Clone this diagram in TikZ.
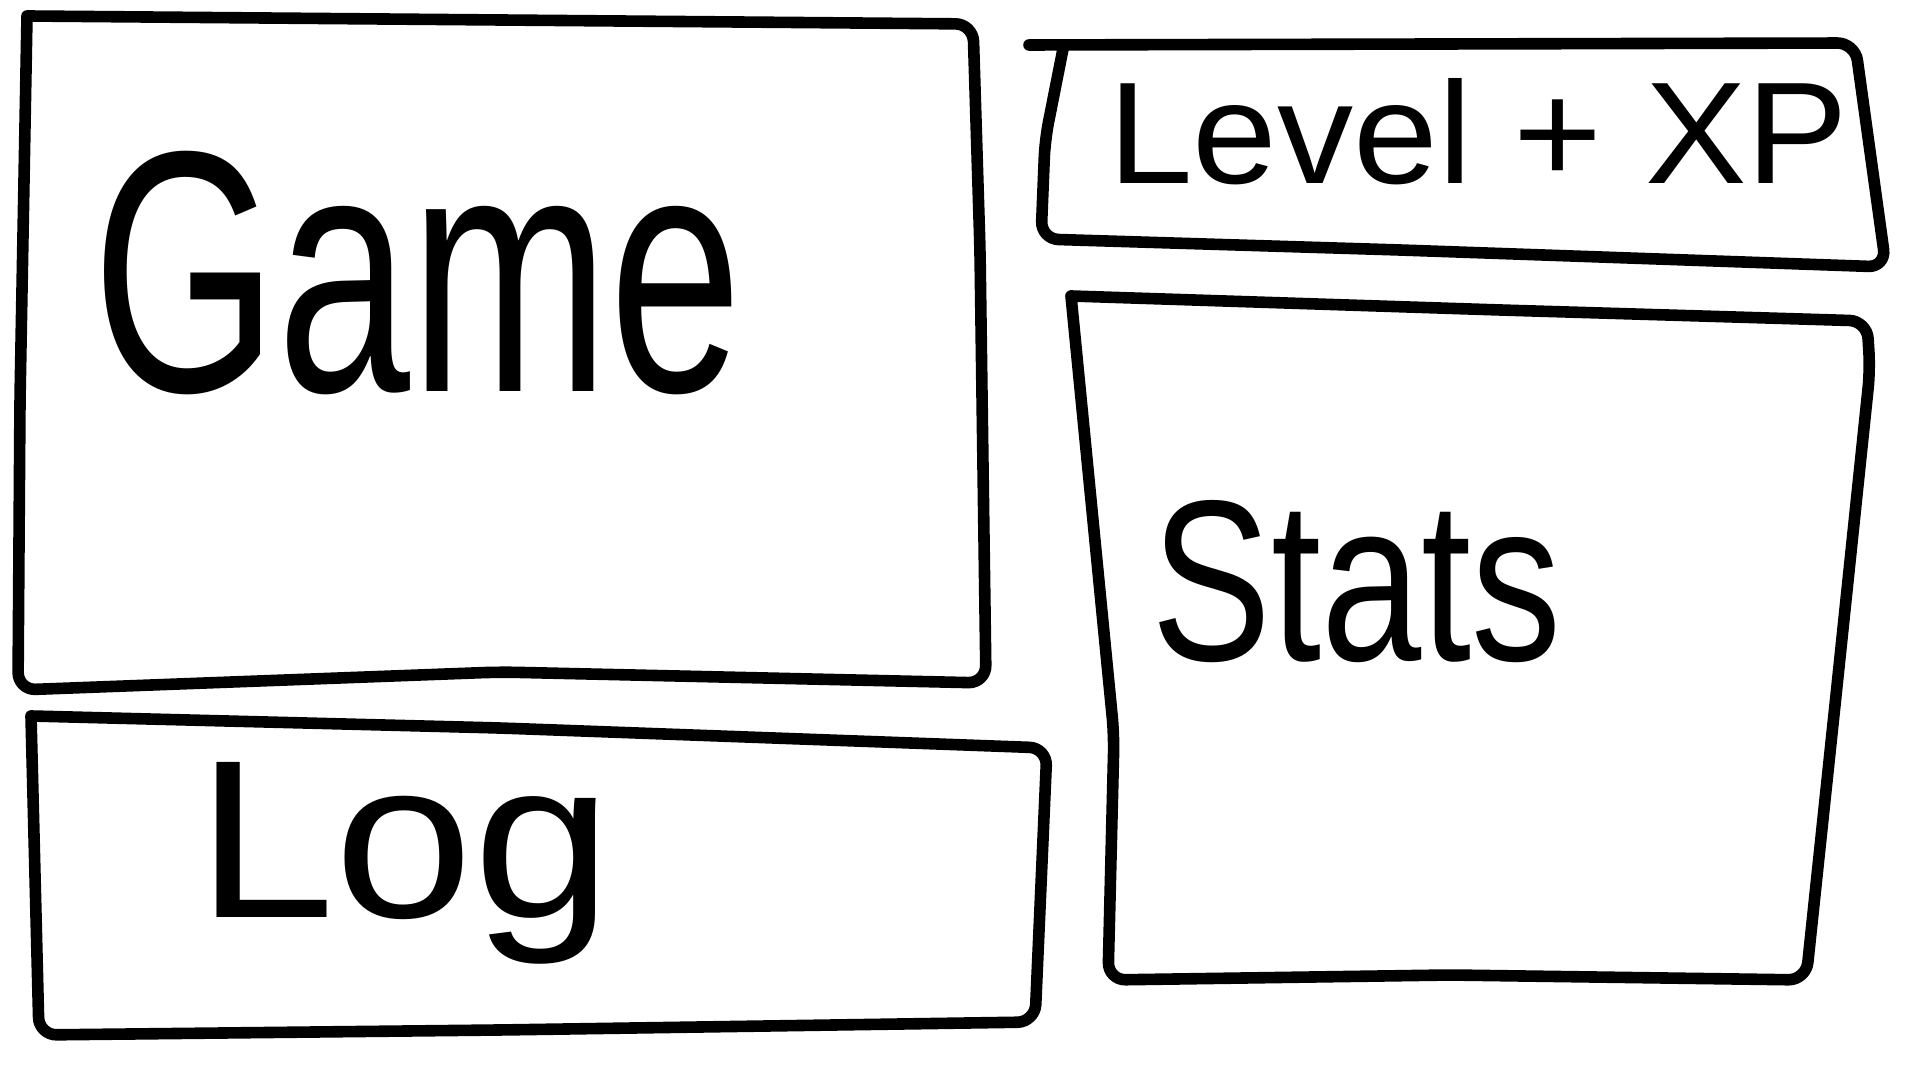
\documentclass[tikz,border=0pt]{standalone}
\usepackage{graphicx}
\usepackage{fontspec}
\setmainfont{Liberation Sans}
\begin{document}
\begin{tikzpicture}[x=0.01cm,y=-0.01cm,
  sketch/.style={line width=3.3pt,line cap=round,line join=round,rounded corners=5pt},
  label/.style={inner sep=0pt,outer sep=0pt}]
\useasboundingbox[fill=white] (0,0) rectangle (1920,1080);
% Game panel
\draw[sketch] (27,16) -- (500,20) -- (973,24) -- (980,250) -- (986,683) -- (500,672) -- (18,690) -- (20,400) -- (27,16);
% Level + XP panel
\draw[sketch] (1029,45) -- (1855,43) -- (1886,267) -- (1400,250) -- (1041,239) -- (1045,140) -- (1063,49);
% Stats panel
\draw[sketch] (1071,296) -- (1500,310) -- (1867,321) -- (1870,370) -- (1837,686) -- (1806,980) -- (1450,975) -- (1108,980) -- (1114,735) -- (1071,296);
% Log panel
\draw[sketch] (31,716) -- (500,728) -- (1047,748) -- (1035,1022) -- (500,1030) -- (39,1035) -- (31,716);
% Labels
\node[label,anchor=base west] (game) at (92,392) {\resizebox{6.5cm}{2.4cm}{Game}};
\node[label,anchor=base west] (level) at (1108,184) {\resizebox{7.4cm}{1.05cm}{Level + XP}};
\node[label,anchor=base west] (stats) at (1151,661) {\resizebox{4.1cm}{1.6cm}{Stats}};
\node[label,anchor=base west] (log) at (196,918) {\resizebox{4.16cm}{1.55cm}{Log}};
\end{tikzpicture}
\end{document}
